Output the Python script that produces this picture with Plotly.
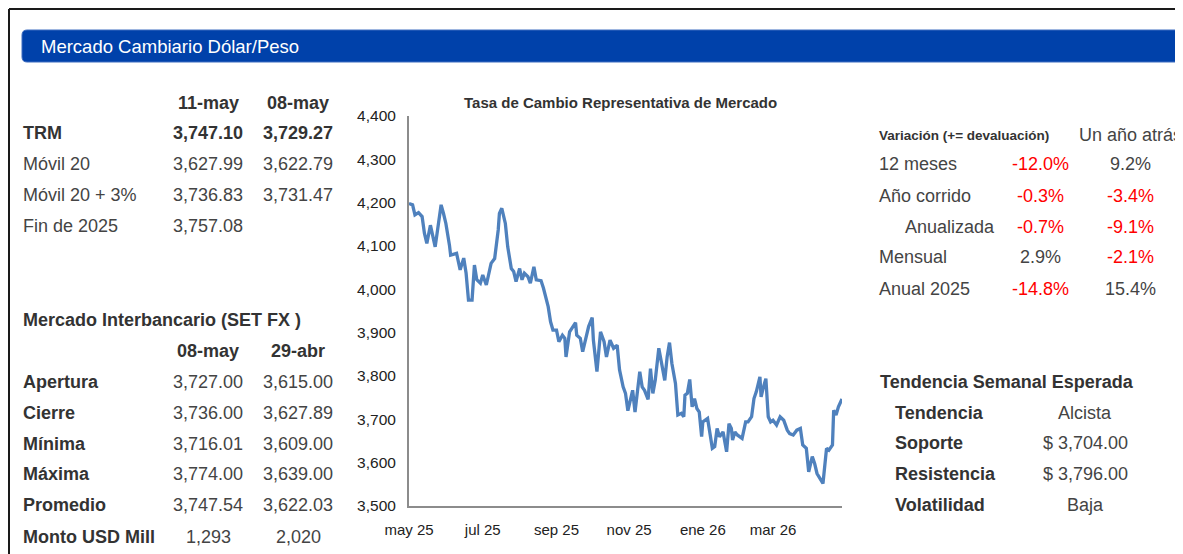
import plotly.graph_objects as go

W, H = 1183, 554
M = 8  # margen del body de la pagina
FW, FH = W - M, H - M
FONT = "Liberation Sans, Arial, sans-serif"

# TRM diaria
fechas = [
    "2025-05-12", "2025-05-15", "2025-05-17", "2025-05-20", "2025-05-23", "2025-05-25", "2025-05-27",
    "2025-05-30", "2025-06-03", "2025-06-05", "2025-06-08", "2025-06-10", "2025-06-12", "2025-06-15",
    "2025-06-16", "2025-06-21", "2025-06-24", "2025-06-27", "2025-06-29", "2025-07-01", "2025-07-04",
    "2025-07-06", "2025-07-08", "2025-07-11", "2025-07-13", "2025-07-16", "2025-07-20", "2025-07-23",
    "2025-07-26", "2025-07-27", "2025-07-29", "2025-08-01", "2025-08-03", "2025-08-06", "2025-08-08",
    "2025-08-10", "2025-08-13", "2025-08-15", "2025-08-17", "2025-08-20", "2025-08-22", "2025-08-25",
    "2025-08-27", "2025-08-31", "2025-09-02", "2025-09-06", "2025-09-08", "2025-09-10", "2025-09-13",
    "2025-09-15", "2025-09-18", "2025-09-20", "2025-09-21", "2025-09-24", "2025-09-26", "2025-09-29",
    "2025-09-30", "2025-10-03", "2025-10-05", "2025-10-08", "2025-10-10", "2025-10-13", "2025-10-14",
    "2025-10-17", "2025-10-20", "2025-10-23", "2025-10-25", "2025-10-28", "2025-10-31", "2025-11-03",
    "2025-11-05", "2025-11-08", "2025-11-10", "2025-11-12", "2025-11-14", "2025-11-16", "2025-11-18",
    "2025-11-20", "2025-11-22", "2025-11-24", "2025-11-26", "2025-11-29", "2025-12-01", "2025-12-03",
    "2025-12-05", "2025-12-08", "2025-12-11", "2025-12-13", "2025-12-15", "2025-12-17", "2025-12-19",
    "2025-12-22", "2025-12-24", "2025-12-27", "2025-12-29", "2025-12-30", "2026-01-01", "2026-01-03",
    "2026-01-05", "2026-01-07", "2026-01-09", "2026-01-11", "2026-01-13", "2026-01-14", "2026-01-18",
    "2026-01-20", "2026-01-22", "2026-01-24", "2026-01-26", "2026-01-28", "2026-01-31", "2026-02-03",
    "2026-02-05", "2026-02-07", "2026-02-08", "2026-02-10", "2026-02-12", "2026-02-16", "2026-02-19",
    "2026-02-21", "2026-02-24", "2026-02-26", "2026-02-28", "2026-03-03", "2026-03-04", "2026-03-06",
    "2026-03-08", "2026-03-10", "2026-03-12", "2026-03-14", "2026-03-17", "2026-03-20", "2026-03-23",
    "2026-03-26", "2026-03-28", "2026-03-31", "2026-04-03", "2026-04-06", "2026-04-08", "2026-04-11",
    "2026-04-13", "2026-04-16", "2026-04-18", "2026-04-20", "2026-04-23", "2026-04-25", "2026-04-28",
    "2026-04-30", "2026-05-03", "2026-05-04", "2026-05-06", "2026-05-08", "2026-05-11",
]
trm = [
    4198, 4195, 4172, 4177, 4168, 4129, 4106,
    4148, 4098, 4137, 4195, 4175, 4152, 4102,
    4079, 4083, 4045, 4072, 4037, 3975, 3975,
    4056, 4022, 4014, 4033, 4010, 4060, 4071,
    4137, 4175, 4187, 4152, 4098, 4048, 4041,
    4018, 4048, 4022, 4037, 4029, 4014, 4052,
    4022, 4020, 4003, 3960, 3925, 3906, 3906,
    3879, 3894, 3887, 3844, 3902, 3910, 3923,
    3894, 3887, 3856, 3894, 3914, 3935, 3883,
    3810, 3902, 3879, 3844, 3883, 3864, 3871,
    3814, 3775, 3760, 3720, 3744, 3767, 3717,
    3767, 3810, 3775, 3767, 3746, 3817, 3760,
    3790, 3864, 3814, 3790, 3844, 3877, 3829,
    3783, 3710, 3714, 3706, 3756, 3760, 3792,
    3729, 3748, 3725, 3717, 3660, 3694, 3702,
    3667, 3633, 3637, 3679, 3660, 3671, 3625,
    3690, 3679, 3652, 3671, 3664, 3656, 3694,
    3694, 3706, 3748, 3764, 3798, 3752, 3775,
    3794, 3706, 3694, 3698, 3687, 3706, 3698,
    3675, 3667, 3664, 3675, 3679, 3641, 3633,
    3579, 3614, 3598, 3575, 3560, 3552, 3633,
    3629, 3641, 3721, 3710, 3729, 3747,
]

tick_fechas = ["2025-05-12", "2025-07-13", "2025-09-13", "2025-11-13", "2026-01-14", "2026-03-14"]
tick_textos = ["may 25", "jul 25", "sep 25", "nov 25", "ene 26", "mar 26"]

# Tabla TRM
trm_cols = ["11-may", "08-may"]
trm_filas = ["TRM", "Móvil 20", "Móvil 20 + 3%", "Fin de 2025"]
trm_vals = [["3,747.10", "3,729.27"], ["3,627.99", "3,622.79"], ["3,736.83", "3,731.47"], ["3,757.08", ""]]

# Mercado interbancario
set_cols = ["08-may", "29-abr"]
set_filas = ["Apertura", "Cierre", "Mínima", "Máxima", "Promedio", "Monto USD Mill"]
set_vals = [["3,727.00", "3,615.00"], ["3,736.00", "3,627.89"], ["3,716.01", "3,609.00"],
            ["3,774.00", "3,639.00"], ["3,747.54", "3,622.03"], ["1,293", "2,020"]]

# Variaciones
var_filas = ["12 meses", "Año corrido", "Anualizada", "Mensual", "Anual 2025"]
var_hoy = [-12.0, -0.3, -0.7, 2.9, -14.8]
var_atras = [9.2, -3.4, -9.1, -2.1, 15.4]

# Tendencia semanal
tend_filas = ["Tendencia", "Soporte", "Resistencia", "Volatilidad"]
tend_vals = ["Alcista", "$ 3,704.00", "$ 3,796.00", "Baja"]


# pixeles de la pagina -> coordenadas paper
def px(x):
    return (x - M) / FW


def py(y):
    return 1 - (y - M) / FH


fig = go.Figure()

fig.add_trace(go.Scatter(
    x=fechas, y=trm, mode="lines",
    line=dict(color="#4F81BD", width=3.3),
    hoverinfo="x+y", showlegend=False,
))


def txt(x, y, s, size=18, bold=False, color="#3c3c3c", anchor="left"):
    fig.add_annotation(
        x=px(x), y=py(y), xref="paper", yref="paper",
        text=f"<b>{s}</b>" if bold else s, showarrow=False,
        xanchor=anchor, yanchor="middle", borderpad=0,
        font=dict(family=FONT, size=size, color=color),
    )


# Marco y barra de titulo
fig.add_shape(type="line", xref="paper", yref="paper", x0=px(9), y0=py(9), x1=1, y1=py(9),
              line=dict(color="#1a1a1a", width=2))
fig.add_shape(type="line", xref="paper", yref="paper", x0=px(9), y0=py(9), x1=px(9), y1=0,
              line=dict(color="#1a1a1a", width=2))

r = 5
x0, x1, y0, y1 = 22, W, 30, 62
path = (f"M {px(x0 + r)},{py(y0)} L {px(x1)},{py(y0)} L {px(x1)},{py(y1)} L {px(x0 + r)},{py(y1)} "
        f"Q {px(x0)},{py(y1)} {px(x0)},{py(y1 - r)} L {px(x0)},{py(y0 + r)} "
        f"Q {px(x0)},{py(y0)} {px(x0 + r)},{py(y0)} Z")
fig.add_shape(type="path", xref="paper", yref="paper", path=path,
              fillcolor="#0041AA", line=dict(color="#3d6cc0", width=1))
txt(40, 46.5, "Mercado Cambiario Dólar/Peso", size=18.5, color="white")

# Tabla TRM
col_x = [208, 298]
for j, c in enumerate(trm_cols):
    txt(col_x[j], 103, c, bold=True, anchor="center", color="#333333")
fila_y = [133, 164, 195, 226]
for i, f in enumerate(trm_filas):
    neg = i == 0
    txt(22, fila_y[i], f, bold=neg, color="#333333" if neg else "#444444")
    for j, v in enumerate(trm_vals[i]):
        if v:
            txt(col_x[j], fila_y[i], v, bold=neg, anchor="center", color="#333333" if neg else "#444444")

# Mercado interbancario
txt(22, 320, "Mercado Interbancario (SET FX )", bold=True, color="#333333")
for j, c in enumerate(set_cols):
    txt(col_x[j], 351, c, bold=True, anchor="center", color="#333333")
fila_y = [382, 413, 444, 474, 505, 537]
for i, f in enumerate(set_filas):
    txt(22, fila_y[i], f, bold=True, color="#333333")
    for j, v in enumerate(set_vals[i]):
        txt(col_x[j], fila_y[i], v, anchor="center", color="#444444")

# Variaciones
txt(878, 135, "Variación (+= devaluación)", size=13.5, bold=True, color="#333333")
txt(1130, 135, "Un año atrás", anchor="center", color="#444444")
fila_y = [164, 196, 227, 257, 289]
for i, f in enumerate(var_filas):
    txt(904 if f == "Anualizada" else 878, fila_y[i], f, color="#444444")
    for cx, v in ((1040, var_hoy[i]), (1130, var_atras[i])):
        txt(cx, fila_y[i], f"{v:.1f}%", anchor="center", color="#FF0000" if v < 0 else "#444444")

# Tendencia semanal
txt(879, 382, "Tendencia Semanal Esperada", bold=True, color="#333333")
fila_y = [413, 443, 474, 505]
for i, f in enumerate(tend_filas):
    txt(894, fila_y[i], f, bold=True, color="#333333")
    txt(1085, fila_y[i], tend_vals[i], anchor="center", color="#444444")

# Titulo del grafico
txt(620, 102, "Tasa de Cambio Representativa de Mercado", size=15, bold=True, anchor="center", color="#333333")

fig.update_layout(
    width=FW, height=FH,
    margin=dict(l=0, r=0, t=0, b=0, pad=0, autoexpand=False),
    paper_bgcolor="white", plot_bgcolor="white",
    font=dict(family=FONT, color="#222222"),
    xaxis=dict(
        domain=[px(409), px(842)], type="date",
        range=["2025-05-12", "2026-05-11"],
        tickvals=tick_fechas, ticktext=tick_textos,
        showgrid=False, zeroline=False, showline=True, linecolor="#8c8c8c", linewidth=2,
        ticks="", tickfont=dict(size=15, color="#222222"), ticklabelstandoff=9,
    ),
    yaxis=dict(
        domain=[py(506), py(116)], range=[3500, 4400], dtick=100, tickformat=",",
        showgrid=False, zeroline=False, showline=True, linecolor="#8c8c8c", linewidth=2,
        ticks="", tickfont=dict(size=15.5, color="#222222"), ticklabelstandoff=8,
    ),
)

fig.write_html("out.html")
